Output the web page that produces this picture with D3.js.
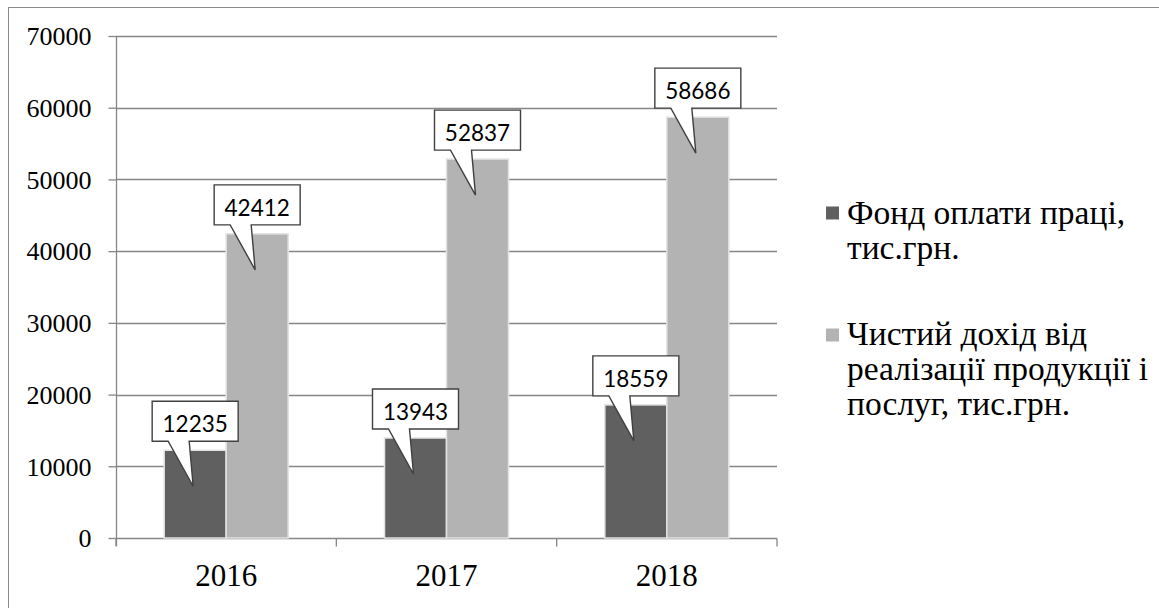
<!DOCTYPE html>
<html><head><meta charset="utf-8">
<script src="https://cdn.jsdelivr.net/npm/d3@7"></script>
<style>body{margin:0;background:#fff;}svg{display:block;}
.serif{font-family:"Liberation Serif","Times New Roman",serif;}
.calib{font-family:Lato,"Open Sans",sans-serif;}
</style>
</head><body>
<svg id="c" width="1159" height="608"></svg>
<script>
const years = ["2016", "2017", "2018"];
const seriesNames = ["Фонд оплати праці, тис.грн.", "Чистий дохід від реалізації продукції і послуг, тис.грн."];
const fondValues = [12235, 13943, 18559];
const dokhidValues = [42412, 52837, 58686];
const yTicks = [0, 10000, 20000, 30000, 40000, 50000, 60000, 70000];
const legendLines = [["Фонд оплати праці,", "тис.грн."], ["Чистий дохід від", "реалізації продукції і", "послуг, тис.грн."]];
const colors = ["#606060", "#b3b3b3"];

const svg = d3.select("#c");
svg.append("rect").attr("x", 8.5).attr("y", 7.5).attr("width", 1200).attr("height", 700)
  .attr("fill", "none").attr("stroke", "#8a8a8a").attr("stroke-width", 1);

const y = d3.scaleLinear().domain([0, 70000]).range([538, 36]);
const x = d3.scaleBand().domain(years).range([116, 777]);
const xs = d3.scaleBand().domain([0, 1]).range([0, x.bandwidth()]).paddingOuter(0.777);

svg.append("g").selectAll("line").data(yTicks.filter(d => d > 0)).join("line")
  .attr("x1", 116).attr("x2", 777).attr("y1", d => Math.round(y(d)) + 0.5).attr("y2", d => Math.round(y(d)) + 0.5)
  .attr("stroke", "#868686").attr("stroke-width", 1.3);

const yAxis = d3.axisLeft(y).tickValues(yTicks).tickSize(8).tickPadding(17).tickFormat(d3.format("d"));
const gy = svg.append("g").attr("transform", "translate(116.5,0)").call(yAxis);
gy.attr("font-family", null).attr("font-size", null);
gy.select(".domain").attr("d", "M0,36V546").attr("stroke", "#868686").attr("stroke-width", 1.3);
gy.selectAll(".tick line").attr("stroke", "#868686").attr("stroke-width", 1.3);
gy.selectAll(".tick text").attr("class", "serif").style("font-size", "26px").attr("fill", "#000").attr("dy", "0.34em");

const gx = svg.append("g").attr("transform", "translate(0,538.5)");
gx.append("line").attr("x1", 116).attr("x2", 777).attr("stroke", "#868686").attr("stroke-width", 1.3);
const bounds = [x.range()[0]].concat(years.map(d => x(d) + x.bandwidth()));
gx.selectAll("line.t").data(bounds).join("line")
  .attr("class", "t").attr("x1", d => d).attr("x2", d => d).attr("y1", 0).attr("y2", 8)
  .attr("stroke", "#868686").attr("stroke-width", 1.3);
gx.selectAll("text").data(years).join("text")
  .attr("class", "serif")
  .attr("x", d => x(d) + x.bandwidth() / 2).attr("y", 47)
  .attr("text-anchor", "middle").style("font-size", "31px").text(d => d);

const data = [];
years.forEach((yr, i) => {
  data.push({ yr, s: 0, v: fondValues[i] });
  data.push({ yr, s: 1, v: dokhidValues[i] });
});
svg.append("g").selectAll("rect").data(data).join("rect")
  .attr("x", d => x(d.yr) + xs(d.s)).attr("width", xs.bandwidth())
  .attr("y", d => y(d.v)).attr("height", d => y(0) - y(d.v))
  .attr("fill", d => colors[d.s]).attr("stroke", "#e2e2e2").attr("stroke-width", 1.5);

const bw = 86, bh = 40;
const cg = svg.append("g").selectAll("g").data(data).join("g")
  .attr("transform", d => `translate(${x(d.yr) + xs(d.s) + xs.bandwidth() / 2},${y(d.v)})`);
cg.append("path")
  .attr("d", `M${-bw/2},${-9-bh}H${bw/2}V-9H-6L-2,36L-27,-9H${-bw/2}Z`)
  .attr("fill", "#fff").attr("stroke", "#404040").attr("stroke-width", 1.4);
cg.append("text").attr("class", "calib").attr("x", 0).attr("y", -9 - bh + 31)
  .attr("text-anchor", "middle").style("font-size", "22.5px").attr("fill", "#000")
  .text(d => d.v);

const lg = svg.append("g");
const legSq = [213, 335];
const legBase = [224, 345];
legendLines.forEach((lines, i) => {
  lg.append("rect").attr("x", 826).attr("y", legSq[i] - 6.5).attr("width", 13).attr("height", 13).attr("fill", colors[i]);
  const t = lg.append("text").attr("class", "serif").style("font-size", "33.5px").attr("fill", "#000");
  lines.forEach((ln, j) => t.append("tspan").attr("x", 847).attr("y", legBase[i] + j * 35).text(ln));
});
</script>
</body></html>
